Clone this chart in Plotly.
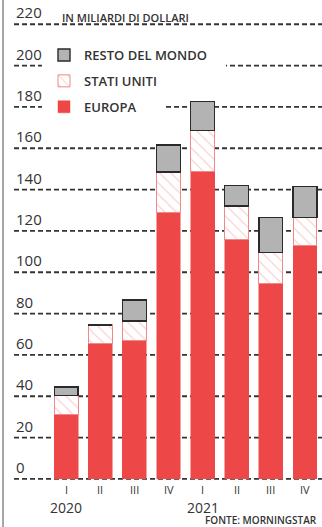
import plotly.graph_objects as go

quarters = ["2020-I", "2020-II", "2020-III", "2020-IV", "2021-I", "2021-II", "2021-III", "2021-IV"]
quarter_labels = ["I", "II", "III", "IV", "I", "II", "III", "IV"]
years = ["2020", "2021"]
year_positions = ["2020-I", "2021-I"]
europa = [31, 65.5, 67, 129, 149, 116, 94.5, 113]
stati_uniti = [9.5, 9, 9.5, 19.5, 19.5, 16, 15, 13.5]
resto = [4, 0, 10, 13, 14, 10, 17, 15]
y_ticks = [0, 20, 40, 60, 80, 100, 120, 140, 160, 180, 200, 220]

RED = "#EE4747"
GRAY = "#B3B3B3"
PINK = "#F2A3A3"
TXT = "#333333"
GRID = "#333333"
FONT = "Open Sans"

W, H = 322, 527
L, R, T, B = 14, 0, 16, 46
pw = W - L - R
ph = H - T - B

fig = go.Figure()
fig.add_trace(go.Bar(
    x=quarters, y=europa, name="EUROPA", legendgroup="eu", legendrank=3,
    marker=dict(color=RED, line=dict(color=RED, width=0.5)),
))
fig.add_trace(go.Bar(
    x=quarters, y=stati_uniti, name="STATI UNITI", legendgroup="us", legendrank=2,
    marker=dict(color="white", line=dict(color="#F08A8A", width=1),
                pattern=dict(shape="\\", fgcolor=PINK, bgcolor="white", size=8, solidity=0.15)),
))
fig.add_trace(go.Bar(
    x=quarters, y=resto, name="RESTO DEL MONDO", legendgroup="rm", legendrank=1,
    marker=dict(color=GRAY, line=dict(color="#2a2a2a", width=1.4)),
))

def px2paper_x(px):
    return (px - L) / pw

def px2paper_y(py):
    return (H - B - py) / ph

annotations = []
for v in y_ticks:
    annotations.append(dict(
        x=0, xref="paper", y=v, yref="y", text=str(v), showarrow=False,
        xanchor="left", yanchor="bottom", yshift=0,
        font=dict(family=FONT, size=15, color=TXT),
    ))
for q, lab in zip(quarters, quarter_labels):
    annotations.append(dict(
        x=q, xref="x", y=px2paper_y(490), yref="paper", text=lab, showarrow=False,
        xanchor="center", yanchor="middle",
        font=dict(family=FONT, size=11, color=TXT),
    ))
for yr, pos in zip(years, year_positions):
    annotations.append(dict(
        x=pos, xref="x", y=px2paper_y(507), yref="paper", text=yr, showarrow=False,
        xanchor="center", yanchor="middle",
        font=dict(family=FONT, size=14, color=TXT),
    ))
annotations.append(dict(
    x=px2paper_x(60), xref="paper", y=px2paper_y(18), yref="paper",
    text="IN MILIARDI DI DOLLARI", showarrow=False, xanchor="left", yanchor="middle",
    font=dict(family=FONT, size=11, color=TXT, weight=600),
))
annotations.append(dict(
    x=px2paper_x(203), xref="paper", y=px2paper_y(520), yref="paper",
    text="FONTE: MORNINGSTAR", showarrow=False, xanchor="left", yanchor="middle",
    font=dict(family=FONT, size=10, color=TXT, weight=600),
))

shapes = []
for v in y_ticks:
    shapes.append(dict(
        type="line", xref="paper", yref="y", layer="below",
        x0=0, x1=1, y0=v, y1=v,
        line=dict(color=GRID, width=1.8, dash="5px,3px"),
    ))
shapes += [
    dict(type="rect", xref="paper", yref="y", layer="below",
         x0=px2paper_x(42), x1=px2paper_x(226), y0=196, y1=204,
         fillcolor="white", line=dict(width=0)),
    dict(type="rect", xref="paper", yref="y", layer="below",
         x0=px2paper_x(42), x1=px2paper_x(164), y0=176, y1=184,
         fillcolor="white", line=dict(width=0)),
    dict(type="line", xref="paper", yref="paper",
         x0=px2paper_x(3), x1=px2paper_x(3), y0=px2paper_y(0), y1=px2paper_y(527),
         line=dict(color="#8A8A8A", width=1.5)),
]

fig.update_layout(
    width=W, height=H,
    margin=dict(l=L, r=R, t=T, b=B),
    paper_bgcolor="white", plot_bgcolor="white",
    barmode="stack", bargap=0.3,
    font=dict(family=FONT, color=TXT),
    showlegend=True,
    legend=dict(
        x=px2paper_x(44), y=px2paper_y(40), xanchor="left", yanchor="top",
        bgcolor="rgba(0,0,0,0)", traceorder="grouped", tracegroupgap=6,
        font=dict(family=FONT, size=13, color=TXT, weight=600),
        itemwidth=30,
    ),
    xaxis=dict(
        categoryorder="array", categoryarray=quarters,
        range=[-1.53, 7.5], showgrid=False, zeroline=False, showline=False,
        ticks="", showticklabels=False,
    ),
    yaxis=dict(
        range=[-1, 224], showticklabels=False,
        showgrid=False, zeroline=False, showline=False, ticks="",
    ),
    annotations=annotations,
    shapes=shapes,
)

fig.write_html("out.html")
